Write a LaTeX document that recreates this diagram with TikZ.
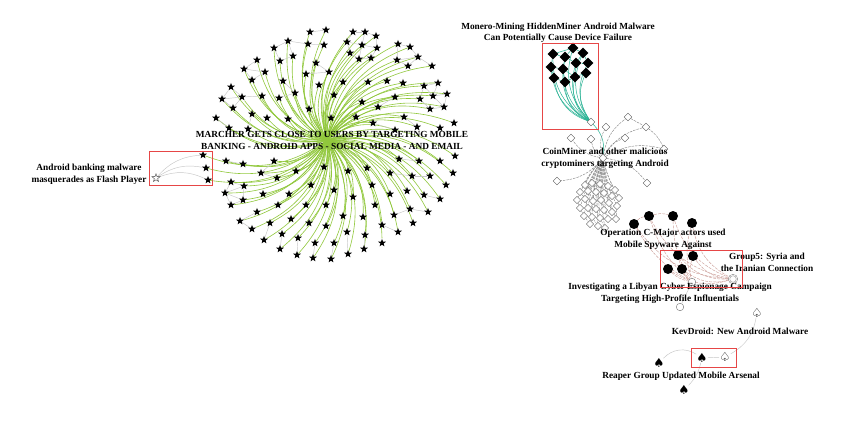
\documentclass[tikz,border=0pt]{standalone}
\usepackage{fontspec}
\setmainfont{Liberation Serif}
\newfontfamily\dejavu{DejaVu Sans}
\usetikzlibrary{shapes.geometric}
\pgfdeclarelayer{background}
\pgfsetlayers{background,main}
\definecolor{gline}{RGB}{145,200,60}
\definecolor{tline}{RGB}{40,178,148}
\definecolor{rline}{RGB}{205,160,155}
\definecolor{boxred}{RGB}{230,70,70}
\begin{document}
\begin{tikzpicture}[x=1pt,y=-1pt,
 starnode/.style={star,star points=5,star point ratio=2.4,minimum size=8.2pt,inner sep=0pt,fill=black},
 ostar/.style={star,star points=5,star point ratio=2.4,minimum size=8.5pt,inner sep=0pt,draw=black!75,fill=white,line width=0.4pt},
 bdia/.style={diamond,minimum size=11pt,inner sep=0pt,fill=black},
 wdia/.style={diamond,minimum size=8pt,inner sep=0pt,draw=black!65,fill=white,line width=0.4pt},
 bcirc/.style={circle,minimum size=10pt,inner sep=0pt,fill=black},
 wcirc/.style={circle,minimum size=7.5pt,inner sep=0pt,draw=black!55,fill=white,line width=0.4pt},
 spadenode/.style={font=\dejavu\fontsize{12.5}{12.5}\selectfont,inner sep=0pt},
 lbl/.style={font=\bfseries\fontsize{9.3}{11.5}\selectfont,align=center,inner sep=0pt},
 redbox/.style={draw=boxred,line width=0.9pt},
 gedge/.style={draw=gline,line width=0.6pt},
 grayedge/.style={draw=black!22,line width=0.45pt},
 tedge/.style={draw=tline,line width=0.5pt},
 dedge/.style={draw=black!50,line width=0.4pt,dash pattern=on 2.5pt off 1pt},
 redge/.style={draw=rline,line width=0.45pt,dash pattern=on 3pt off 1.2pt},
]
\useasboundingbox (0,0) rectangle (842,431);
% ---------- star network ----------
\coordinate (mh) at (327,140);
\foreach \x/\y [count=\i] in {310/32,326/30,353/32,365/32,376/36,347/42,362/45,377/48,350/53,359/59,
 371/58,398/44,410/47,397/60,408/66,418/57,432/66,288/41,274/48,308/44,
 324/45,293/56,280/61,257/60,244/69,265/72,252/80,316/63,329/72,306/74,
 343/82,368/82,387/81,403/83,283/81,295/93,319/85,334/95,231/87,222/99,
 242/97,262/96,279/98,233/108,424/86,438/83,433/96,447/94,420/99,444/107,
 430/109,395/97,362/102,378/107,309/109,288/119,331/118,356/117,216/118,252/114,
 267/118,229/128,248/129,404/117,417/127,373/123,395/130,440/128,454/123,226/161,
 243/164,274/161,296/171,324/167,348/171,367/168,399/159,419/161,440/161,455/156,
 390/173,412/176,430/176,453/173,261/173,277/178,231/182,244/186,225/193,243/200,
 231/205,263/194,278/205,289/194,306/205,311/185,326/205,334/190,353/197,372/185,
 375/205,390/194,407/191,424/195,440/199,446/185,257/212,240/221,252/229,270/223,
 264/240,282/234,280/249,291/219,298/238,297/255,309/223,315/243,313/258,326/226,
 334/243,331/259,343/216,347/232,348/254,363/217,365/235,364/249,382/243,394/215,
 410/209,428/212,382/225,398/232,413/223,203/155,206/168,208/180}
 {\node[starnode] (s\i) at (\x,\y) {};}
\node[ostar] (ab) at (156,178) {};
\node[lbl] (marcher) at (332,140.5) {MARCHER GETS CLOSE TO USERS BY TARGETING MOBILE\\BANKING - ANDROID APPS - SOCIAL MEDIA - AND EMAIL};
\node[lbl] (ablbl) at (89,174.5) {Android banking malware\\masquerades as Flash Player};
% ---------- HiddenMiner ----------
\foreach \x/\y [count=\i] in {573/48,553/54,565/57,583/53,551/67,563/69,576/63,588/63,554/78,565/82,575/77,586/73}
 {\node[bdia] (h\i) at (\x,\y) {};}
\node[wdia] (hm) at (591,122) {};
\node[lbl] (hmlbl) at (558,33) {Monero-Mining HiddenMiner Android Malware\\Can Potentially Cause Device Failure};
% ---------- CoinMiner ----------
\node[wdia] (cmh) at (603,158) {};
\foreach \x/\y [count=\i] in {606/127,628/117,646/127,571/138,591/139,625/138,664/149,557/181,647/183}
 {\node[wdia] (c\i) at (\x,\y) {};}
\foreach \x/\y [count=\i] in {585/185,592/183,600/184,608/186,615/190,580/192,588/191,596/192,604/193,612/196,
 619/198,577/200,585/199,593/201,601/200,609/203,617/206,580/208,588/208,596/209,
 604/210,612/212,584/216,592/217,600/218,608/219,590/224,598/226,605/228,616/219}
 {\node[wdia,minimum size=7.5pt] (d\i) at (\x,\y) {};}
\node[lbl] (cmlbl) at (605,158.5) {CoinMiner and other malicious\\cryptominers targeting Android};
% ---------- circles ----------
\foreach \x/\y [count=\i] in {634/224,649/216,673/216,692/223,678/255,693/256,668/269,682/269}
 {\node[bcirc] (k\i) at (\x,\y) {};}
\node[wcirc] (w1) at (692,282) {};
\node[wcirc] (w2) at (680,307) {};
\node[wcirc,minimum size=8pt,double=white,double distance=0.8pt] (g5) at (733,279) {};
\node[lbl] (cmajor) at (663,239.5) {Operation C-Major actors used\\Mobile Spyware Against};
\node[lbl] (g5lbl) at (767,262.5) {Group5: Syria and\\the Iranian Connection};
\node[lbl] (libyan) at (670,293.5) {Investigating a Libyan Cyber Espionage Campaign\\Targeting High-Profile Influentials};
% ---------- spades ----------
\node[spadenode] (p1) at (757,313) {♤};
\node[spadenode] (p2) at (725,357) {♤};
\node[spadenode] (p3) at (702,358) {♠};
\node[spadenode] (p4) at (659,363) {♠};
\node[spadenode] (p5) at (684,390) {♠};
\node[lbl] (kev) at (740,331) {KevDroid: New Android Malware};
\node[lbl] (reaper) at (681,376) {Reaper Group Updated Mobile Arsenal};
% ---------- red boxes ----------
\draw[redbox] (149,151) rectangle (212,185);
\draw[redbox] (542,43) rectangle (598,129);
\draw[redbox] (660,250) rectangle (742,287);
\draw[redbox] (691,348) rectangle (736,367);
% ---------- edges ----------
\begin{pgfonlayer}{background}
\fill[white] (0,0) rectangle (842,431);
\foreach \i in {1,...,138} {\draw[gedge] (mh) to[bend left=28] (s\i);}
\foreach \a/\b in {1/2,3/4,4/5,3/6,6/7,7/8,5/8,6/9,9/10,10/11,7/10,8/11,4/7,
 12/13,12/14,14/15,13/16,15/16,16/17,14/16,45/46,45/47,46/47,47/48,45/49,49/51,47/50,50/51,48/50,
 39/40,39/41,40/41,41/42,40/44,41/44,18/19,18/20,20/21,18/22,22/23,19/23,24/25,25/26,26/27,25/27,
 87/88,87/89,88/89,89/90,90/91,89/91,88/90,107/108,108/109,110/111,112/113,115/116,118/119,121/122,
 124/125,127/128,77/78,81/82,82/83,130/131,131/132,133/134,104/105,28/29,29/30,35/36,36/43,59/62,60/63,
 64/65,66/67,52/54,70/71,72/85,85/86}
 {\draw[grayedge] (s\a) -- (s\b);}
\foreach \i in {136,137,138} {\draw[grayedge] (ab) to[bend left=22] (s\i);}
% HiddenMiner
\foreach \i in {1,...,12} {\draw[tedge] (h\i) to[bend right=30] (hm);}
\foreach \a/\b in {1/2,1/3,1/4,2/3,2/5,3/6,3/7,4/7,4/8,5/6,5/9,6/10,6/11,7/11,7/8,8/12,9/10,10/11,11/12}
 {\draw[tedge] (h\a) -- (h\b);}
\draw[tedge] (hm) to[bend left=25] (cmh);
% CoinMiner
\foreach \i in {1,...,9} {\draw[dedge] (cmh) to[bend left=22] (c\i);}
\draw[dedge] (c2) -- (c3);
\draw[dedge] (c3) to[bend left=15] (c7);
\foreach \i in {1,...,30} {\draw[dedge,draw=black!45] (cmh) to[bend right=8] (d\i);}
\foreach \a/\b in {1/7,2/8,3/9,4/10,6/13,7/14,8/15,9/16,12/18,13/19,14/20,15/21,16/22,18/23,19/24,20/25,21/26,23/27,24/28,25/29,11/17,17/30,5/11}
 {\draw[dedge,draw=black!45] (d\a) -- (d\b);}
% circles
\foreach \i in {1,...,8} {\draw[redge] (k\i) to[bend right=25] (g5);}
\foreach \i in {1,...,8} {\draw[redge] (k\i) to[bend right=15] (w1);}
\draw[redge] (k1) to[bend left=20] (k2);
\draw[redge] (k2) to[bend left=15] (k3);
\draw[grayedge] (w1) -- (w2);
% spades
\draw[grayedge] (p1) to[bend left=25] (p2);
\draw[grayedge] (p2) -- (p3);
\draw[grayedge] (p4) to[bend left=40] (p3);
\draw[grayedge] (p5) to[bend right=15] (p3);
\end{pgfonlayer}
\end{tikzpicture}
\end{document}
